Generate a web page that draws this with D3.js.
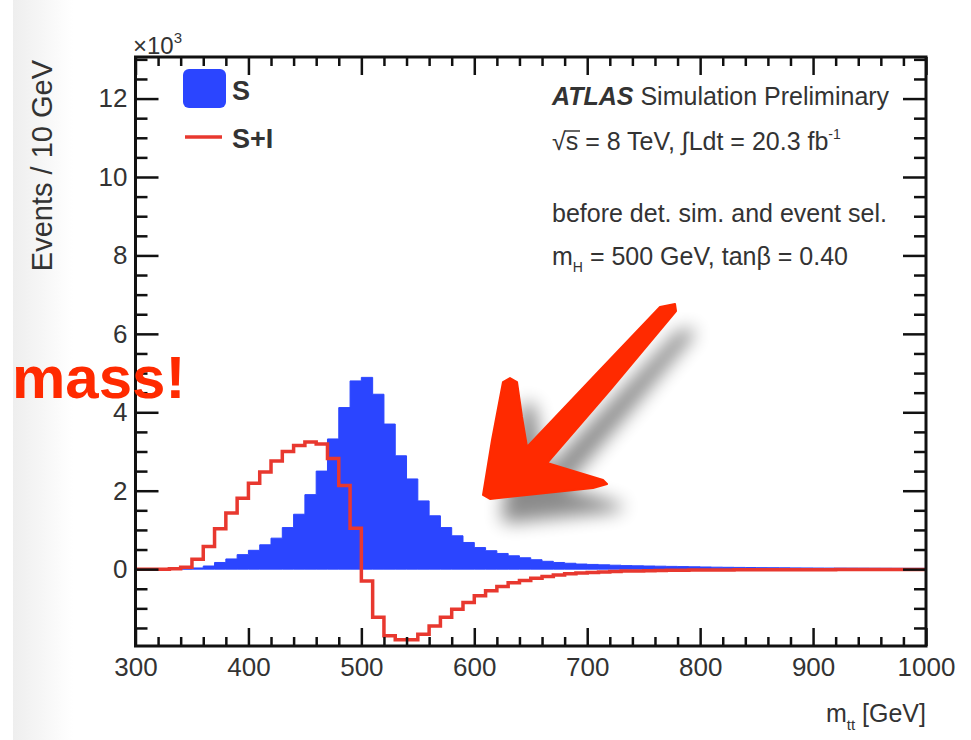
<!DOCTYPE html>
<html lang="en">
<head>
  <meta charset="UTF-8">
  <title>m_tt signal and interference</title>
  <script src="https://d3js.org/d3.v7.min.js"></script>
  <style>
    body {
      margin: 0;
      background: #fff;
      font-family: "Liberation Sans", Arial, sans-serif;
    }
    .tick text {
      font-size: 26px;
      fill: #333;
      font-family: "Liberation Sans", Arial, sans-serif;
    }
    .tick line {
      stroke: #111;
      stroke-width: 2.5;
    }
  </style>
</head>
<body>
  <script>
    // lower bin edges, 10 GeV bins
    const binEdges = [
      300, 310, 320, 330, 340, 350, 360, 370, 380, 390,
      400, 410, 420, 430, 440, 450, 460, 470, 480, 490,
      500, 510, 520, 530, 540, 550, 560, 570, 580, 590,
      600, 610, 620, 630, 640, 650, 660, 670, 680, 690,
      700, 710, 720, 730, 740, 750, 760, 770, 780, 790,
      800, 810, 820, 830, 840, 850, 860, 870, 880, 890,
      900, 910, 920, 930, 940, 950, 960, 970, 980, 990
    ];

    // signal only (x10^3 events)
    const signal = [
      0, 0, 0, 0, 0.01, 0.03, 0.08, 0.17, 0.26, 0.37,
      0.48, 0.62, 0.79, 1.06, 1.4, 1.9, 2.5, 3.32, 4.12, 4.8,
      4.89, 4.46, 3.7, 2.89, 2.3, 1.74, 1.36, 1.06, 0.85, 0.68,
      0.55, 0.47, 0.4, 0.34, 0.29, 0.24, 0.2, 0.17, 0.15, 0.13,
      0.12, 0.11, 0.1, 0.09, 0.085, 0.08, 0.075, 0.07, 0.065, 0.06,
      0.055, 0.05, 0.047, 0.044, 0.041, 0.038, 0.036, 0.034, 0.032, 0.03,
      0.028, 0.027, 0.026, 0.025, 0.024, 0.023, 0.022, 0.021, 0.02, 0.02
    ];

    // signal + interference (x10^3 events)
    const signalPlusInterf = [
      0, 0, 0, 0.01, 0.05, 0.25, 0.58, 1.03, 1.43, 1.81,
      2.19, 2.48, 2.76, 3.0, 3.15, 3.24, 3.19, 2.82, 2.13, 1.04,
      -0.3, -1.23, -1.7, -1.8, -1.8, -1.66, -1.45, -1.23, -1.02, -0.85,
      -0.68, -0.55, -0.44, -0.35, -0.29, -0.23, -0.19, -0.15, -0.12, -0.1,
      -0.085, -0.07, -0.06, -0.05, -0.045, -0.04, -0.035, -0.03, -0.027, -0.024,
      -0.022, -0.02, -0.019, -0.018, -0.017, -0.016, -0.015, -0.015, -0.014, -0.014,
      -0.013, -0.013, -0.012, -0.012, -0.012, -0.011, -0.011, -0.011, -0.01, -0.01
    ];

    const xTicks = [300, 400, 500, 600, 700, 800, 900, 1000];
    const yTicks = [0, 2, 4, 6, 8, 10, 12];

    const width = 971;
    const height = 740;
    const blue = "#2b45ff";
    const red = "#e8382f";

    const svg = d3.select("body")
      .append("svg")
      .attr("width", width)
      .attr("height", height);

    // faint shadow band at the left edge of the slide
    const defs = svg.append("defs");
    const grad = defs.append("linearGradient").attr("id", "band");
    grad.append("stop").attr("offset", "0%").attr("stop-color", "#eeeeee");
    grad.append("stop").attr("offset", "100%").attr("stop-color", "#ffffff");
    svg.append("rect")
      .attr("x", 13).attr("y", 0)
      .attr("width", 60).attr("height", height)
      .attr("fill", "url(#band)");

    // plot frame
    const fLeft = 135.5, fRight = 926, fTop = 57, fBottom = 646;

    const x = d3.scaleLinear().domain([300, 1000]).range([fLeft, fRight]);
    const y = d3.scaleLinear().domain([-1.96, 13.06]).range([fBottom, fTop]);

    // histogram points, closing at the upper edge of the last bin
    const pts = (vals) => {
      const p = binEdges.map((e, i) => [e, vals[i]]);
      p.push([binEdges[binEdges.length - 1] + 10, vals[vals.length - 1]]);
      return p;
    };

    const area = d3.area()
      .x(d => x(d[0]))
      .y0(y(0))
      .y1(d => y(d[1]))
      .curve(d3.curveStepAfter);

    const line = d3.line()
      .x(d => x(d[0]))
      .y(d => y(d[1]))
      .curve(d3.curveStepAfter);

    svg.append("path")
      .attr("d", area(pts(signal)))
      .attr("fill", blue)
      .attr("stroke", blue)
      .attr("stroke-width", 1);

    svg.append("path")
      .attr("d", line(pts(signalPlusInterf)))
      .attr("fill", "none")
      .attr("stroke", red)
      .attr("stroke-width", 3.5);

    // axes, ticks pointing inwards on all four sides
    const minorX = d3.range(300, 1001, 20).filter(v => v % 100 !== 0);
    const minorY = d3.range(-1.5, 13.01, 0.5).filter(v => v % 2 !== 0);

    svg.append("g").attr("transform", `translate(0,${fBottom})`)
      .call(d3.axisBottom(x).tickValues(xTicks).tickSize(-18).tickPadding(11.5).tickFormat(d3.format("d")))
      .call(g => g.select(".domain").remove());
    svg.append("g").attr("transform", `translate(0,${fBottom})`)
      .call(d3.axisBottom(x).tickValues(minorX).tickSize(-9).tickFormat(""))
      .call(g => g.select(".domain").remove());
    svg.append("g").attr("transform", `translate(0,${fTop})`)
      .call(d3.axisTop(x).tickValues(xTicks).tickSize(-18).tickFormat(""))
      .call(g => g.select(".domain").remove());
    svg.append("g").attr("transform", `translate(0,${fTop})`)
      .call(d3.axisTop(x).tickValues(minorX).tickSize(-9).tickFormat(""))
      .call(g => g.select(".domain").remove());

    svg.append("g").attr("transform", `translate(${fLeft},0)`)
      .call(d3.axisLeft(y).tickValues(yTicks).tickSize(-23).tickPadding(8))
      .call(g => g.select(".domain").remove());
    svg.append("g").attr("transform", `translate(${fLeft},0)`)
      .call(d3.axisLeft(y).tickValues(minorY).tickSize(-12).tickFormat(""))
      .call(g => g.select(".domain").remove());
    svg.append("g").attr("transform", `translate(${fRight},0)`)
      .call(d3.axisRight(y).tickValues(yTicks).tickSize(-23).tickFormat(""))
      .call(g => g.select(".domain").remove());
    svg.append("g").attr("transform", `translate(${fRight},0)`)
      .call(d3.axisRight(y).tickValues(minorY).tickSize(-12).tickFormat(""))
      .call(g => g.select(".domain").remove());

    svg.append("rect")
      .attr("x", fLeft).attr("y", fTop)
      .attr("width", fRight - fLeft).attr("height", fBottom - fTop)
      .attr("fill", "none")
      .attr("stroke", "#111")
      .attr("stroke-width", 3);

    // axis titles
    svg.append("text")
      .attr("transform", "translate(52,60) rotate(-90)")
      .attr("text-anchor", "end")
      .attr("font-size", 29)
      .attr("fill", "#333")
      .text("Events / 10 GeV");

    const xl = svg.append("text")
      .attr("x", fRight).attr("y", 722)
      .attr("text-anchor", "end")
      .attr("font-size", 25)
      .attr("fill", "#333");
    xl.append("tspan").text("m");
    xl.append("tspan").attr("font-size", 15).attr("dy", 8).text("tt");
    xl.append("tspan").attr("dy", -8).text(" [GeV]");

    const ex = svg.append("text")
      .attr("x", 133).attr("y", 54)
      .attr("font-size", 24)
      .attr("fill", "#333");
    ex.append("tspan").text("\u00d710");
    ex.append("tspan").attr("font-size", 15).attr("dy", -11).text("3");

    // legend
    svg.append("rect")
      .attr("x", 183).attr("y", 69)
      .attr("width", 43).attr("height", 39)
      .attr("rx", 6)
      .attr("fill", blue);
    svg.append("text")
      .attr("x", 232).attr("y", 100)
      .attr("font-size", 27).attr("font-weight", "bold").attr("fill", "#333")
      .text("S");
    svg.append("line")
      .attr("x1", 185).attr("x2", 222)
      .attr("y1", 137).attr("y2", 137)
      .attr("stroke", red).attr("stroke-width", 3.5);
    svg.append("text")
      .attr("x", 232).attr("y", 148)
      .attr("font-size", 27).attr("font-weight", "bold").attr("fill", "#333")
      .text("S+I");

    // ATLAS label block
    const info = svg.append("g")
      .attr("font-size", 25)
      .attr("fill", "#333");
    const l1 = info.append("text").attr("x", 552).attr("y", 105);
    l1.append("tspan").attr("font-weight", "bold").attr("font-style", "italic").text("ATLAS");
    l1.append("tspan").text(" Simulation Preliminary");

    const l2 = info.append("text").attr("x", 552).attr("y", 150);
    l2.append("tspan").text("\u221as = 8 TeV, \u222bLdt = 20.3 fb");
    l2.append("tspan").attr("font-size", 14).attr("dy", -11).text("-1");
    // bar of the square root sign
    info.append("line")
      .attr("x1", 565).attr("x2", 580)
      .attr("y1", 131).attr("y2", 131)
      .attr("stroke", "#333").attr("stroke-width", 1.5);

    info.append("text").attr("x", 552).attr("y", 222)
      .text("before det. sim. and event sel.");

    const l4 = info.append("text").attr("x", 552).attr("y", 265);
    l4.append("tspan").text("m");
    l4.append("tspan").attr("font-size", 14).attr("dy", 7).text("H");
    l4.append("tspan").attr("dy", -7).text(" = 500 GeV, tan\u03b2 = 0.40");

    // hand-drawn arrow with drop shadow
    const blur = defs.append("filter").attr("id", "soft")
      .attr("x", "-50%").attr("y", "-50%").attr("width", "200%").attr("height", "200%");
    blur.append("feGaussianBlur").attr("stdDeviation", 9);

    const arrow = "M483,495 L492,440 L503,382 L510,378 L517,382 L522,417 L527,447 " +
      "L600,370 L660,307 L675,304 L676,311 L610,390 L547,463 L603,480 L607,484 " +
      "L593,488 L490,499 Z";

    svg.append("path")
      .attr("d", arrow)
      .attr("transform", "translate(18,24)")
      .attr("fill", "#000")
      .attr("opacity", 0.45)
      .attr("filter", "url(#soft)");
    svg.append("path")
      .attr("d", arrow)
      .attr("fill", "#ff2a00")
      .attr("stroke", "#ff2a00")
      .attr("stroke-width", 2)
      .attr("stroke-linejoin", "round");

    // overlay text from the slide
    svg.append("text")
      .attr("x", 12).attr("y", 398)
      .attr("font-size", 60)
      .attr("font-weight", "bold")
      .attr("fill", "#ff2a00")
      .text("mass!");
  </script>
</body>
</html>
